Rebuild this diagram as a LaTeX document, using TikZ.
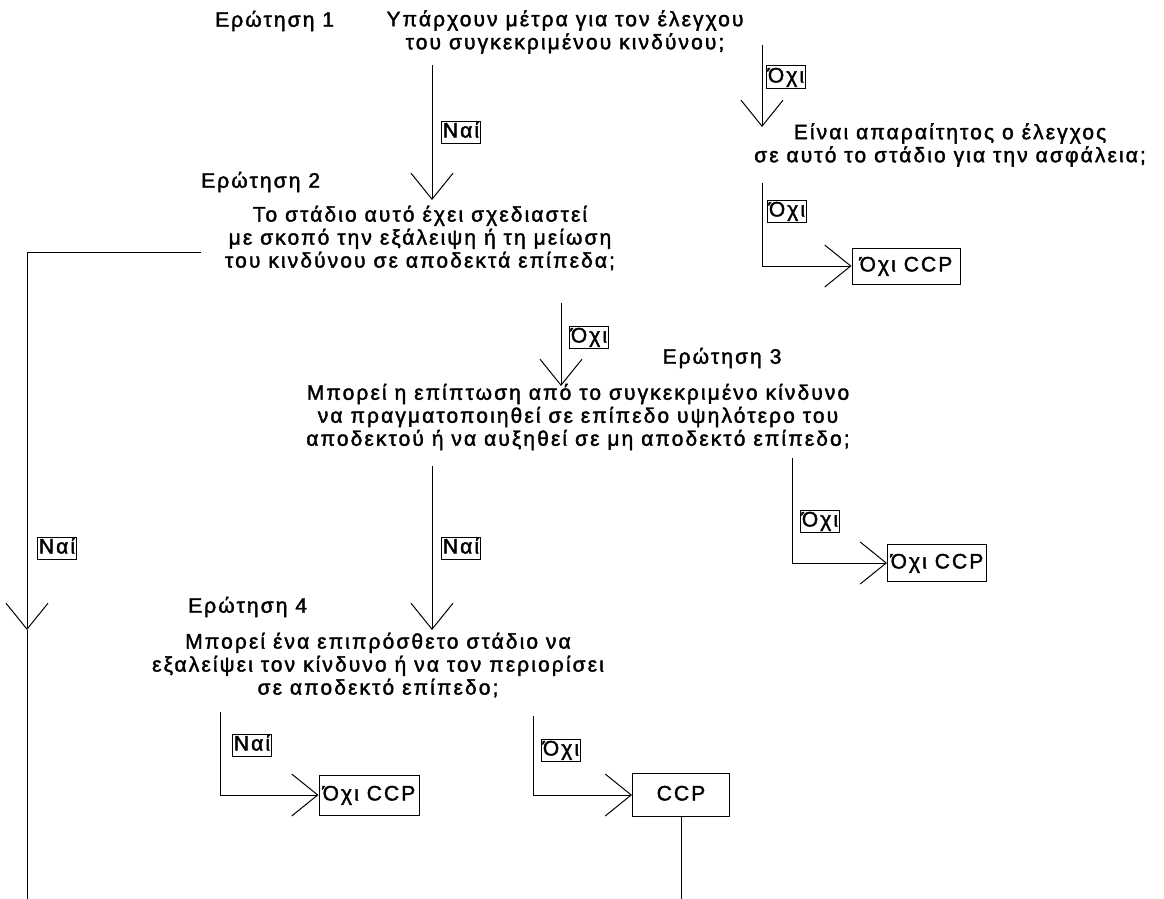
\documentclass[tikz,border=0pt]{standalone}
\usepackage{fontspec}
\setmainfont{Liberation Sans}[LetterSpace=10,FakeBold=1.8]
\usetikzlibrary{arrows.meta}
\begin{document}
\begin{tikzpicture}[x=1pt,y=-1pt,
  every node/.style={font=\fontsize{21}{23}\selectfont},
  title/.style={inner sep=0pt},
  question/.style={align=center, inner sep=0pt},
  answer/.style={draw, line width=1pt, inner sep=1.5pt, text height=15pt, text depth=4pt},
  outcome/.style={draw, line width=1pt, inner sep=2pt, text height=15pt, text depth=4pt},
  flow/.style={line width=1pt, -{Straight Barb[length=26pt,width=42pt,line width=1pt]}},
  plain/.style={line width=1pt}
]
\useasboundingbox (0,0) rectangle (1164,899);

% question titles
\node[title, anchor=west] (t1) at (215,21)  {Ερώτηση 1};
\node[title, anchor=west] (t2) at (201,182) {Ερώτηση 2};
\node[title] (t3) at (722,358) {Ερώτηση 3};
\node[title, anchor=west] (t4) at (188,607) {Ερώτηση 4};

% question texts
\node[question] (q1)  at (565,32)  {Υπάρχουν μέτρα για τον έλεγχου\\ του συγκεκριμένου κινδύνου;};
\node[question, anchor=west] (q1b) at (754,145) {Είναι απαραίτητος ο έλεγχος\\ σε αυτό το στάδιο για την ασφάλεια;};
\node[question] (q2)  at (420,238) {Το στάδιο αυτό έχει σχεδιαστεί\\ με σκοπό την εξάλειψη ή τη μείωση\\ του κινδύνου σε αποδεκτά επίπεδα;};
\node[question] (q3)  at (578,417) {Μπορεί η επίπτωση από το συγκεκριμένο κίνδυνο\\ να πραγματοποιηθεί σε επίπεδο υψηλότερο του\\ αποδεκτού ή να αυξηθεί σε μη αποδεκτό επίπεδο;};
\node[question] (q4)  at (378,665) {Μπορεί ένα επιπρόσθετο στάδιο να\\ εξαλείψει τον κίνδυνο ή να τον περιορίσει\\ σε αποδεκτό επίπεδο;};

% outcome boxes
\node[outcome, minimum width=108pt, minimum height=36pt] (o1) at (906,266) {Όχι CCP};
\node[outcome, minimum width=99pt,  minimum height=37pt] (o2) at (937,563) {Όχι CCP};
\node[outcome, minimum width=100pt, minimum height=40pt] (o3) at (369,795) {Όχι CCP};
\node[outcome, minimum width=97pt,  minimum height=43pt] (ccp) at (681,795) {CCP};

% connector ends
\coordinate (a1s) at (432,65);  \coordinate (a1e) at (432,200);
\coordinate (a2s) at (762,45);  \coordinate (a2e) at (762,127);
\coordinate (a3s) at (762,183);
\coordinate (a4s) at (201,252); \coordinate (a4m) at (27,630); \coordinate (a4e) at (27,899);
\coordinate (a5s) at (561,303); \coordinate (a5e) at (561,386);
\coordinate (a6s) at (432,466); \coordinate (a6e) at (432,630);
\coordinate (a7s) at (792,458);
\coordinate (a8s) at (220,712);
\coordinate (a9s) at (533,716);
\coordinate (a10e) at (681,899);

% connectors
\draw[flow] (a1s) -- (a1e);
\draw[flow] (a2s) -- (a2e);
\draw[flow] (a3s) |- (o1.west);
\draw[flow] (a4s) -| (a4m);
\draw[plain] (a4m) -- (a4e);
\draw[flow] (a5s) -- (a5e);
\draw[flow] (a6s) -- (a6e);
\draw[flow] (a7s) |- (o2.west);
\draw[flow] (a8s) |- (o3.west);
\draw[flow] (a9s) |- (ccp.west);
\draw[plain] (ccp.south) -- (a10e);

% answer labels
\node[answer] (l1) at (461,132) {Ναί};
\node[answer] (l2) at (786,77)  {Όχι};
\node[answer] (l3) at (787,211) {Όχι};
\node[answer] (l4) at (57,548)  {Ναί};
\node[answer] (l5) at (589,337) {Όχι};
\node[answer] (l6) at (461,548) {Ναί};
\node[answer] (l7) at (820,521) {Όχι};
\node[answer] (l8) at (252,745) {Ναί};
\node[answer] (l9) at (561,750) {Όχι};
\end{tikzpicture}
\end{document}
